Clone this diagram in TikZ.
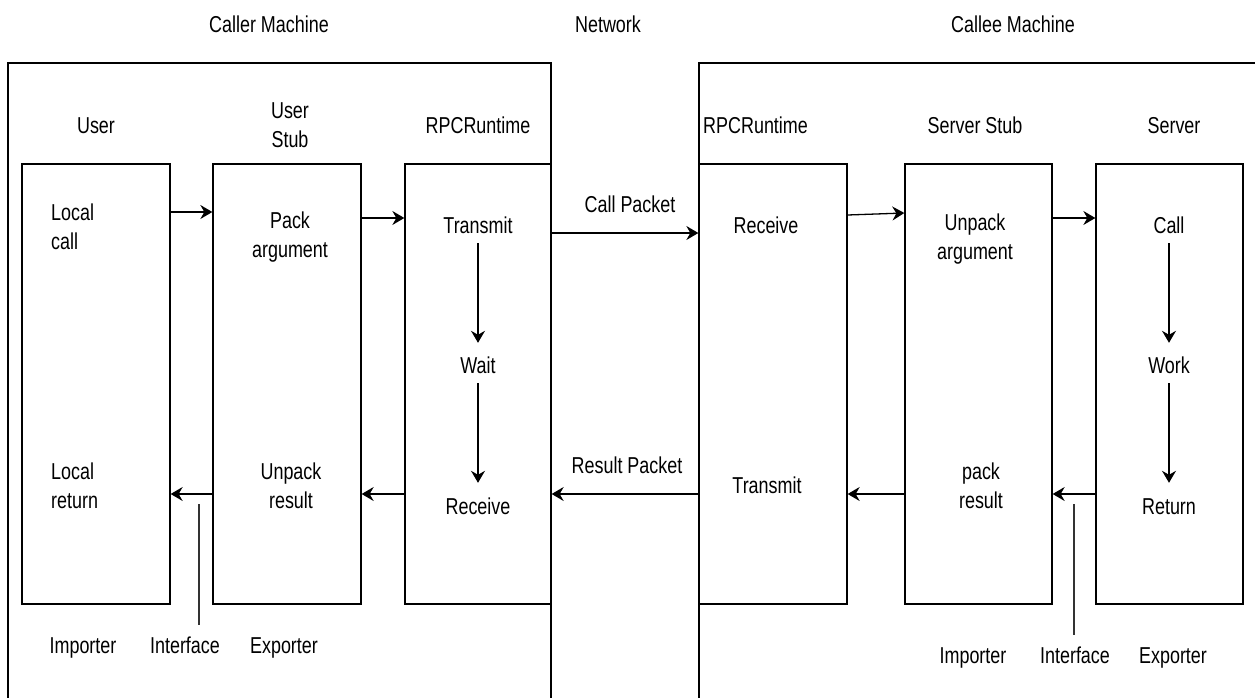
\documentclass[tikz,border=0pt]{standalone}
\usepackage{fontspec}
\setmainfont{Liberation Sans}[FakeStretch=0.78]
\usetikzlibrary{arrows.meta}
\begin{document}
\begin{tikzpicture}[x=1pt,y=-1pt,
  box/.style={draw, line width=1.3pt, rectangle, minimum height=440pt, inner sep=0pt},
  lbl/.style={font=\fontsize{23}{29.5}\selectfont, inner sep=0pt, anchor=base, text height=16.5pt, text depth=4pt},
  mlbl/.style={font=\fontsize{23}{29.5}\selectfont, inner sep=0pt, anchor=north, align=center},
  mlbll/.style={font=\fontsize{23}{29.5}\selectfont, inner sep=0pt, anchor=north west, align=left},
  arr/.style={line width=1.3pt, -{Stealth[length=12pt,width=14pt,inset=4pt]}},
  ln/.style={line width=1.3pt},
  ifline/.style={line width=1.1pt, black!80}]
\useasboundingbox (0,0) rectangle (1255,698);

% outer machine frames
\draw[ln] (8,698) -- (8,63) -- (551,63) -- (551,698);
\draw[ln] (699,698) -- (699,63) -- (1256,63);

% titles
\node[lbl] (tcaller) at (269,33) {Caller Machine};
\node[lbl] (tnet) at (608,33) {Network};
\node[lbl] (tcallee) at (1013,33) {Callee Machine};

% column labels
\node[lbl] (luser) at (96,133) {User};
\node[mlbl] (lustub) at (290,102.2) {User\\Stub};
\node[lbl] (lrpc1) at (478,133) {RPCRuntime};
\node[lbl, anchor=base west] (lrpc2) at (703,133) {RPCRuntime};
\node[lbl] (lsstub) at (975,133) {Server Stub};
\node[lbl] (lserver) at (1174,133) {Server};

% boxes
\node[box, minimum width=148pt] (ubox) at (96,384) {};
\node[box, minimum width=148pt] (sbox) at (287,384) {};
\node[box, minimum width=146pt] (rbox) at (478,384) {};
\node[box, minimum width=148pt] (crbox) at (773,384) {};
\node[box, minimum width=147pt] (ssbox) at (978.5,384) {};
\node[box, minimum width=147pt] (svbox) at (1169.5,384) {};

% texts inside boxes
\node[mlbll] (lcall) at (51,203.2) {Local\\call};
\node[mlbl] (pack) at (290,211.2) {Pack\\argument};
\node[lbl] (ctrans) at (478,233) {Transmit};
\node[lbl] (cwait) at (478,373) {Wait};
\node[lbl] (crecv) at (478,514) {Receive};
\node[mlbll] (lret) at (51,462.2) {Local\\return};
\node[mlbl] (unpackres) at (291,462.2) {Unpack\\result};
\node[lbl] (srecv) at (766,233) {Receive};
\node[mlbl] (unpackarg) at (975,213.2) {Unpack\\argument};
\node[lbl] (scall) at (1169,233) {Call};
\node[lbl] (swork) at (1169,373) {Work};
\node[lbl] (sret) at (1169,514) {Return};
\node[lbl] (strans) at (767,493) {Transmit};
\node[mlbl] (packres) at (981,462.2) {pack\\result};

% packet labels
\node[lbl] (cpacket) at (630,212) {Call Packet};
\node[lbl] (rpacket) at (627,473) {Result Packet};

% bottom labels
\node[lbl] (imp1) at (83,653) {Importer};
\node[lbl] (int1) at (185,653) {Interface};
\node[lbl] (exp1) at (284,653) {Exporter};
\node[lbl] (imp2) at (973,663) {Importer};
\node[lbl] (int2) at (1075,663) {Interface};
\node[lbl] (exp2) at (1173,663) {Exporter};

% levels
\coordinate (ya) at (0,212);
\coordinate (yb) at (0,218);
\coordinate (yc) at (0,233);
\coordinate (yd) at (0,215);
\coordinate (ye) at (0,213);
\coordinate (yr) at (0,494);

% forward arrows
\draw[arr] (ubox.east |- ya) -- (sbox.west |- ya);
\draw[arr] (sbox.east |- yb) -- (rbox.west |- yb);
\draw[arr] (rbox.east |- yc) -- (crbox.west |- yc);
\draw[arr] (crbox.east |- yd) -- (ssbox.west |- ye);
\draw[arr] (ssbox.east |- yb) -- (svbox.west |- yb);

% vertical arrows
\draw[arr, shorten <=6pt, shorten >=13.5pt] (ctrans.south) -- (cwait.north);
\draw[arr, shorten <=6pt, shorten >=14.5pt] (cwait.south) -- (crecv.north);
\draw[arr, shorten <=6pt, shorten >=13.5pt] (scall.south) -- (swork.north);
\draw[arr, shorten <=6pt, shorten >=14.5pt] (swork.south) -- (sret.north);

% return arrows
\draw[arr] (svbox.west |- yr) -- (ssbox.east |- yr);
\draw[arr] (ssbox.west |- yr) -- (crbox.east |- yr);
\draw[arr] (crbox.west |- yr) -- (rbox.east |- yr);
\draw[arr] (rbox.west |- yr) -- (sbox.east |- yr);
\draw[arr] (sbox.west |- yr) -- (ubox.east |- yr);

% interface lines
\coordinate (ifa1) at (199,504);
\coordinate (ifb1) at (199,625);
\coordinate (ifa2) at (1074,504);
\coordinate (ifb2) at (1074,635);
\draw[ifline] (ifa1) -- (ifb1);
\draw[ifline] (ifa2) -- (ifb2);
\end{tikzpicture}
\end{document}
